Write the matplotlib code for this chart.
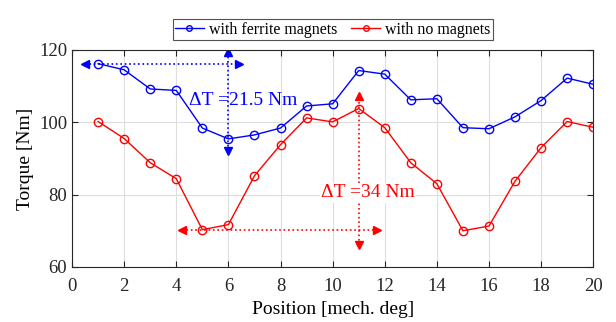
import matplotlib.pyplot as plt
import numpy as np

plt.rcParams['font.family'] = ['Liberation Serif', 'DejaVu Serif']

# position [mech. deg]
pos = np.arange(1, 21)
# torque with ferrite magnets
t_ferrite = [116.2, 114.5, 109.2, 108.8, 98.4, 95.4, 96.5, 98.4, 104.5, 105.1,
             114.3, 113.3, 106.2, 106.5, 98.5, 98.2, 101.5, 106.0, 112.2, 110.5]
# torque with no magnets
t_none = [100.2, 95.5, 88.8, 84.4, 70.3, 71.7, 85.2, 93.8, 101.2, 100.1,
          103.8, 98.5, 88.8, 83.0, 70.0, 71.3, 83.7, 93.0, 100.2, 98.6]

lbl_ferrite = 'with ferrite magnets'
lbl_none = 'with no magnets'
txt_ferrite = '\u0394T =21.5 Nm'
txt_none = '\u0394T =34 Nm'

fig = plt.figure(figsize=(6.16, 3.22), dpi=100)
ax = fig.add_axes([0.117, 0.171, 0.846, 0.674])

ax.plot(pos, t_ferrite, '-o', color='#0000ff', lw=1.0, ms=6, mfc='none',
        mew=1.0, label=lbl_ferrite, zorder=3)
ax.plot(pos, t_none, '-o', color='#ff0000', lw=1.0, ms=6, mfc='none',
        mew=1.0, label=lbl_none, zorder=3)


def darrow(x0, x1, y0, y1, c, horiz):
    ax.plot([x0, x1], [y0, y1], ':', color=c, lw=1.2, zorder=2)
    if horiz:
        ax.plot([x0], [y0], marker='<', color=c, ms=6, zorder=2)
        ax.plot([x1], [y1], marker='>', color=c, ms=6, zorder=2)
    else:
        ax.plot([x0], [y0], marker='v', color=c, ms=6, zorder=2)
        ax.plot([x1], [y1], marker='^', color=c, ms=6, zorder=2)


# ripple markers
darrow(0.5, 6.4, 116.2, 116.2, '#0000ff', True)
darrow(6, 6, 92.0, 119.3, '#0000ff', False)
darrow(4.2, 11.7, 70.3, 70.3, '#ff0000', True)
darrow(11, 11, 66.2, 107.2, '#ff0000', False)

ax.text(4.5, 106.0, txt_ferrite, color='#0000ff', fontsize=14,
        va='center', ha='left', zorder=4)
ax.text(9.55, 80.5, txt_none, color='#ff0000', fontsize=14,
        va='center', ha='left', zorder=4,
        bbox=dict(facecolor='white', edgecolor='none', pad=1))

ax.set_xlim(0, 20)
ax.set_ylim(60, 120)
ax.set_xticks(np.arange(0, 21, 2))
ax.set_yticks([60, 80, 100, 120])
ax.grid(True, color='#dedede', lw=0.8)
ax.set_axisbelow(True)
ax.tick_params(direction='in', top=True, right=True, labelsize=13.5,
               length=4, colors='#262626')
ax.tick_params(axis='x', pad=8)
for s in ax.spines.values():
    s.set_color('#262626')
ax.set_xlabel('Position [mech. deg]', fontsize=14, labelpad=4)
ax.set_ylabel('Torque [Nm]', fontsize=14, labelpad=4)

leg = ax.legend(loc='lower center', bbox_to_anchor=(0.5, 1.045), ncol=2,
                fontsize=11.5, frameon=True, fancybox=False, handlelength=1.8,
                handletextpad=0.3, columnspacing=0.9, borderpad=0.15,
                borderaxespad=0)
leg.get_frame().set_edgecolor('#262626')
leg.get_frame().set_linewidth(0.8)
for h in leg.legend_handles:
    h.set_markersize(4)

fig.savefig('out.png', dpi=100)
